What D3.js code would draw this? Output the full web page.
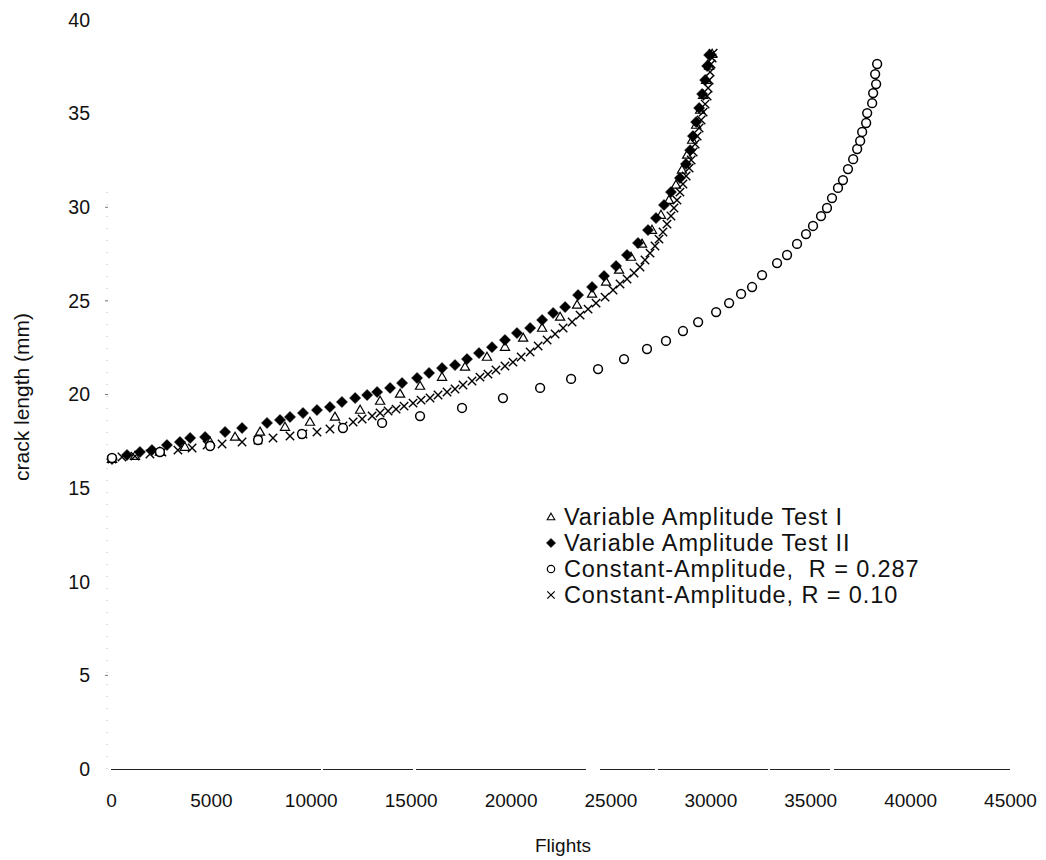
<!DOCTYPE html>
<html>
<head>
<meta charset="utf-8">
<script src="https://cdn.jsdelivr.net/npm/d3@7/dist/d3.min.js"></script>
<style>
  html, body { margin: 0; padding: 0; background: #fff; }
  svg { display: block; font-family: "Liberation Sans", Arial, Helvetica, sans-serif; }
</style>
</head>
<body>
<svg id="chart" width="1046" height="860"></svg>
<script>
// Crack growth: crack length (mm) versus flights for four tests.

const xTicks = [0, 5000, 10000, 15000, 20000, 25000, 30000, 35000, 40000, 45000];
const yTicks = [0, 5, 10, 15, 20, 25, 30, 35, 40];

const seriesNames = [
  "Variable Amplitude Test I",
  "Variable Amplitude Test II",
  "Constant-Amplitude,  R = 0.287",
  "Constant-Amplitude, R = 0.10"
];

// Variable Amplitude Test I (open triangles)
const testIFlights = [50, 1200, 2450, 3700, 4960, 6210, 7460, 8710, 9960, 11210, 12470, 13470, 14470, 15470,
  16570, 17720, 18820, 19720, 20630, 21580, 22480, 23330, 24080, 24780, 25430, 26030, 26580, 27080, 27530,
  27930, 28280, 28580, 28840, 29090, 29290, 29490, 29640, 29790, 29940, 30090];
const testICrack = [16.55, 16.71, 16.93, 17.19, 17.46, 17.73, 18.00, 18.26, 18.53, 18.80, 19.17, 19.65, 20.03, 20.45,
  20.93, 21.47, 22.00, 22.53, 23.02, 23.55, 24.14, 24.78, 25.37, 26.01, 26.65, 27.34, 28.04, 28.78, 29.58,
  30.38, 31.19, 31.99, 32.79, 33.59, 34.39, 35.19, 35.99, 36.79, 37.54, 38.18];

// Variable Amplitude Test II (filled diamonds)
const testIIFlights = [50, 800, 1450, 2050, 2800, 3450, 3960, 4710, 5710, 6560, 7810, 8460, 8960, 9610, 10310,
  10960, 11560, 12220, 12820, 13320, 13970, 14570, 15320, 15920, 16570, 17220, 17820, 18420, 19070, 19720,
  20320, 20980, 21580, 22130, 22730, 23380, 24080, 24680, 25280, 25830, 26380, 26880, 27280, 27680, 28030,
  28480, 28780, 28990, 29130, 29290, 29440, 29590, 29740, 29840, 29940];
const testIICrack = [16.55, 16.77, 16.93, 17.03, 17.30, 17.46, 17.68, 17.73, 18.00, 18.21, 18.48, 18.64, 18.80, 19.01, 19.17,
  19.33, 19.60, 19.81, 19.97, 20.13, 20.35, 20.61, 20.88, 21.15, 21.41, 21.57, 21.89, 22.21, 22.53, 22.91,
  23.28, 23.55, 23.98, 24.35, 24.67, 25.31, 25.74, 26.33, 26.86, 27.45, 28.09, 28.78, 29.42, 30.12, 30.81,
  31.56, 32.31, 33.05, 33.80, 34.55, 35.30, 36.05, 36.79, 37.54, 38.13];

// Constant amplitude, R = 0.287 (open circles)
const ca287Flights = [50, 2450, 4960, 7360, 9560, 11610, 13570, 15470, 17570, 19620, 21480, 23030, 24380, 25680,
  26830, 27780, 28630, 29390, 30290, 30940, 31540, 32090, 32590, 33340, 33840, 34340, 34790, 35140, 35540,
  35840, 36090, 36390, 36640, 36890, 37150, 37350, 37500, 37600, 37800, 37850, 38100, 38150, 38300, 38250, 38350];
const ca287Crack = [16.61, 16.93, 17.25, 17.57, 17.89, 18.21, 18.48, 18.85, 19.28, 19.81, 20.35, 20.83, 21.36, 21.89,
  22.43, 22.86, 23.39, 23.87, 24.40, 24.88, 25.37, 25.74, 26.38, 27.02, 27.45, 28.04, 28.57, 29.00, 29.53,
  29.96, 30.49, 31.03, 31.45, 32.04, 32.57, 33.11, 33.54, 34.02, 34.50, 35.03, 35.56, 36.10, 36.58, 37.11, 37.65];

// Constant amplitude, R = 0.10 (crosses)
const ca010Flights = [50, 550, 1200, 1950, 2550, 3350, 4060, 4810, 5560, 6560, 7360, 8110, 8960, 9610, 10310,
  10960, 11610, 12120, 12570, 13070, 13470, 13870, 14270, 14670, 15120, 15520, 15970, 16370, 16820, 17220,
  17620, 18070, 18470, 18870, 19270, 19720, 20120, 20530, 20980, 21380, 21830, 22230, 22630, 23080, 23480,
  23880, 24280, 24730, 25130, 25480, 25830, 26180, 26480, 26730, 26980, 27230, 27430, 27630, 27830, 28030,
  28180, 28330, 28480, 28630, 28790, 28940, 29040, 29140, 29240, 29340, 29440, 29540, 29640, 29740, 29840,
  29890, 29940, 29990, 30040, 30090, 30140];
const ca010Crack = [16.55, 16.66, 16.71, 16.82, 16.93, 17.03, 17.14, 17.30, 17.36, 17.46, 17.57, 17.68, 17.78, 17.89, 18.00,
  18.16, 18.32, 18.53, 18.69, 18.85, 19.01, 19.12, 19.22, 19.38, 19.54, 19.70, 19.81, 19.97, 20.13, 20.29,
  20.51, 20.72, 20.93, 21.09, 21.31, 21.52, 21.73, 22.00, 22.27, 22.59, 22.91, 23.23, 23.55, 23.87, 24.24,
  24.56, 24.88, 25.20, 25.58, 25.90, 26.17, 26.49, 26.81, 27.18, 27.55, 27.93, 28.30, 28.68, 29.10, 29.53,
  29.96, 30.38, 30.81, 31.24, 31.67, 32.09, 32.52, 32.95, 33.38, 33.80, 34.23, 34.66, 35.08, 35.51, 35.94,
  36.37, 36.79, 37.22, 37.65, 37.97, 38.23];

const zip = (xs, ys) => xs.map((x, i) => ({ x, y: ys[i] }));

const svg = d3.select("#chart");
const margin = { left: 111, right: 36, top: 20, bottom: 91 };
const W = 1046, H = 860;

const x = d3.scaleLinear().domain([0, 45000]).range([margin.left, W - margin.right]);
const y = d3.scaleLinear().domain([0, 40]).range([H - margin.bottom, margin.top]);

// Marker shapes
const triPath = "M0,-4.8L4.6,3.2L-4.6,3.2Z";
const diaPath = "M0,-5.5L5.5,0L0,5.5L-5.5,0Z";
const crossPath = "M-4.2,-4.2L4.2,4.2M-4.2,4.2L4.2,-4.2";

// Axes
svg.append("line")
  .attr("x1", x(0)).attr("x2", x(45000))
  .attr("y1", y(0) + 0.5).attr("y2", y(0) + 0.5)
  .attr("stroke", "#222").attr("stroke-width", 1)
  .attr("stroke-dasharray", "210,2,90,3,170,14,55,3,110,2,60,4,300");

svg.append("line")
  .attr("x1", x(0) - 4).attr("x2", x(0) - 4)
  .attr("y1", y(0)).attr("y2", y(31))
  .attr("stroke", "#bbb").attr("stroke-width", 1)
  .attr("stroke-dasharray", "1,11");

const yAxis = d3.axisLeft(y).tickValues(yTicks).tickSize(0).tickPadding(0);
const gy = svg.append("g").attr("transform", `translate(${x(0) - 21},0)`).call(yAxis);
gy.select(".domain").remove();
gy.selectAll("text").attr("font-size", 19.5).attr("fill", "#111")
  .attr("font-family", "Liberation Sans, Arial, sans-serif");

svg.append("g").selectAll("line").data(yTicks.filter(v => v > 0 && v < 35 && v !== 15 && v !== 10))
  .join("line")
  .attr("x1", x(0) - 6).attr("x2", x(0) - 3)
  .attr("y1", d => y(d)).attr("y2", d => y(d))
  .attr("stroke", "#777").attr("stroke-width", 1);

const xAxis = d3.axisBottom(x).tickValues(xTicks).tickSize(0).tickPadding(0).tickFormat(d3.format("d"));
const gx = svg.append("g").attr("transform", `translate(0,${y(0) + 24})`).call(xAxis);
gx.select(".domain").remove();
gx.selectAll("text").attr("font-size", 19).attr("fill", "#111")
  .attr("font-family", "Liberation Sans, Arial, sans-serif");

// Axis titles
svg.append("text")
  .attr("x", 563).attr("y", 852)
  .attr("text-anchor", "middle").attr("font-size", 19).attr("fill", "#111")
  .text("Flights");

svg.append("text")
  .attr("transform", `translate(29,397) rotate(-90)`)
  .attr("text-anchor", "middle").attr("font-size", 21).attr("fill", "#111")
  .text("crack length (mm)");

// Data marks
const plot = svg.append("g");

plot.append("g").selectAll("path").data(zip(testIFlights, testICrack)).join("path")
  .attr("d", triPath)
  .attr("transform", d => `translate(${x(d.x)},${y(d.y)})`)
  .attr("fill", "none").attr("stroke", "#000").attr("stroke-width", 1.2);

plot.append("g").selectAll("path").data(zip(ca010Flights, ca010Crack)).join("path")
  .attr("d", crossPath)
  .attr("transform", d => `translate(${x(d.x)},${y(d.y)})`)
  .attr("fill", "none").attr("stroke", "#000").attr("stroke-width", 1.4);

plot.append("g").selectAll("path").data(zip(testIIFlights, testIICrack)).join("path")
  .attr("d", diaPath)
  .attr("transform", d => `translate(${x(d.x)},${y(d.y)})`)
  .attr("fill", "#000").attr("stroke", "#000").attr("stroke-width", 0.6);

plot.append("g").selectAll("circle").data(zip(ca287Flights, ca287Crack)).join("circle")
  .attr("cx", d => x(d.x)).attr("cy", d => y(d.y)).attr("r", 4.4)
  .attr("fill", "#fff").attr("stroke", "#000").attr("stroke-width", 1.5);

// Legend
const legend = svg.append("g");
const legendMarks = [
  { d: "M0,-3.8L3.8,2.7L-3.8,2.7Z", fill: "none", sw: 1.1 },
  { d: "M0,-4.6L4.6,0L0,4.6L-4.6,0Z", fill: "#000", sw: 0.5 },
  { circle: true },
  { d: "M-3.7,-3.7L3.7,3.7M-3.7,3.7L3.7,-3.7", fill: "none", sw: 1.2 }
];
seriesNames.forEach((name, i) => {
  const base = 525 + i * 26;
  const cy = base - 8;
  const m = legendMarks[i];
  if (m.circle) {
    legend.append("circle").attr("cx", 551).attr("cy", cy).attr("r", 3.7)
      .attr("fill", "#fff").attr("stroke", "#000").attr("stroke-width", 1.2);
  } else {
    legend.append("path").attr("d", m.d).attr("transform", `translate(551,${cy})`)
      .attr("fill", m.fill).attr("stroke", "#000").attr("stroke-width", m.sw);
  }
  legend.append("text").attr("x", 564).attr("y", base)
    .attr("font-size", 23.5).attr("letter-spacing", 0.9).attr("fill", "#111")
    .attr("xml:space", "preserve").style("white-space", "pre")
    .text(name);
});
</script>
</body>
</html>
